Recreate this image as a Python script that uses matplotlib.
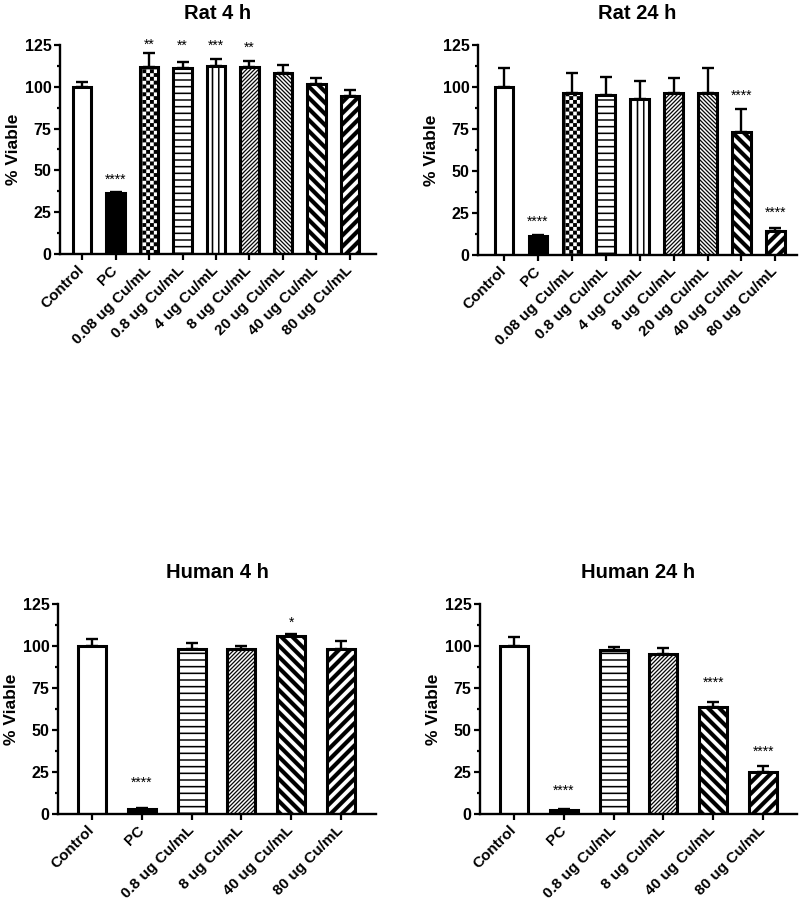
import numpy as np
import matplotlib
matplotlib.use("Agg")
import matplotlib.pyplot as plt
import matplotlib.hatch as mhatch
from matplotlib.path import Path

# ---------------- data ----------------
rat_labels = ['Control', 'PC', '0.08 ug Cu/mL', '0.8 ug Cu/mL', '4 ug Cu/mL',
              '8 ug Cu/mL', '20 ug Cu/mL', '40 ug Cu/mL', '80 ug Cu/mL']
rat4_mean = [100, 36.3, 112.0, 111.2, 112.4, 111.6, 108.3, 101.9, 94.3]
rat4_err = [3.0, 0.6, 8.0, 3.6, 4.2, 4.0, 4.7, 3.4, 3.6]
rat4_sig = ['', '****', '**', '**', '***', '**', '', '', '']
rat4_sig_y = [0, 44.3, 125.0, 124.6, 124.6, 123.4, 0, 0, 0]

rat24_mean = [100, 11.5, 96.4, 95.2, 92.7, 96.2, 96.2, 73.2, 14.1]
rat24_err = [11.3, 0.6, 11.7, 10.6, 11.1, 9.2, 15.1, 13.7, 2.0]
rat24_sig = ['', '****', '', '', '', '', '', '****', '****']
rat24_sig_y = [0, 19.8, 0, 0, 0, 0, 0, 95.0, 25.2]

human_labels = ['Control', 'PC', '0.8 ug Cu/mL', '8 ug Cu/mL',
                '40 ug Cu/mL', '80 ug Cu/mL']
human4_mean = [100, 2.8, 98.2, 98.0, 106.2, 98.2]
human4_err = [4.4, 0.6, 3.8, 2.0, 0.8, 4.8]
human4_sig = ['', '****', '', '', '*', '']
human4_sig_y = [0, 18.5, 0, 0, 114.0, 0]

human24_mean = [100, 2.4, 97.8, 95.2, 63.5, 25.2]
human24_err = [5.2, 0.6, 1.6, 3.6, 3.4, 3.2]
human24_sig = ['', '****', '', '', '****', '****']
human24_sig_y = [0, 13.9, 0, 0, 78.0, 37.3]

rat_hatch = ['', '', 'o', '-', '|', '/', '\\', 'X', 'x']
rat_face = ['white', 'black'] + ['white'] * 7
human_hatch = ['', '', '-', '/', 'X', 'x']
human_face = ['white', 'black'] + ['white'] * 4

yticks = [0, 25, 50, 75, 100, 125]


# ---------------- custom hatch patterns (filled polygons) ----------------
def _rect(x0, y0, x1, y1):
    return [(x0, y0), (x1, y0), (x1, y1), (x0, y1), (x0, y0)]


def _poly(pts):
    return list(pts) + [pts[0]]


def _build(char):
    polys = []
    if char == '-':
        n, t = 15, 0.014
        for k in range(n + 1):
            y = k / n
            polys.append(_rect(-0.05, y - t / 2, 1.05, y + t / 2))
    elif char == '|':
        n, t = 16, 0.014
        for k in range(n + 1):
            x = k / n
            polys.append(_rect(x - t / 2, -0.05, x + t / 2, 1.05))
    elif char in ('/', 'x', '\\', 'X'):
        if char in ('/', '\\'):
            n, t = 25, 0.011
        else:
            n, t = 9, 0.040
        h = t * np.sqrt(2) / 2
        if char in ('/', 'x'):
            for k in range(-n - 1, n + 2):
                c = k / n
                polys.append(_poly([(-0.1, -0.1 + c - h), (1.1, 1.1 + c - h),
                                    (1.1, 1.1 + c + h), (-0.1, -0.1 + c + h)]))
        else:
            for k in range(-1, 2 * n + 2):
                c = k / n
                polys.append(_poly([(-0.1, c + 0.1 - h), (1.1, c - 1.1 - h),
                                    (1.1, c - 1.1 + h), (-0.1, c + 0.1 + h)]))
    elif char == 'o':
        n = 26
        for i in range(n):
            for j in range(n):
                if (i + j) % 2 == 0:
                    polys.append(_rect(i / n, j / n, (i + 1) / n, (j + 1) / n))
    verts, codes = [], []
    for p in polys:
        verts.extend(p)
        codes.extend([Path.MOVETO] + [Path.LINETO] * (len(p) - 2) + [Path.CLOSEPOLY])
    return np.array(verts, dtype=float).reshape(-1, 2), np.array(codes, dtype=Path.code_type)


def _make_hatch_class(char):
    class _H(mhatch.HatchPatternBase):
        def __init__(self, hatch, density):
            if hatch is not None and char in hatch:
                self._v, self._c = _build(char)
            else:
                self._v, self._c = np.empty((0, 2)), np.empty(0, dtype=Path.code_type)
            self.num_vertices = len(self._v)

        def set_vertices_and_codes(self, vertices, codes):
            vertices[:] = self._v
            codes[:] = self._c
    return _H


mhatch._hatch_types = [_make_hatch_class(c) for c in ['-', '|', '/', '\\', 'x', 'X', 'o']]

# ---------------- style ----------------
plt.rcParams['font.family'] = ['Liberation Sans', 'DejaVu Sans']
plt.rcParams['hatch.linewidth'] = 0.1
plt.rcParams['hatch.color'] = 'black'

W, H = 800, 905
fig = plt.figure(figsize=(W / 100, H / 100), dpi=100)


def px_rect(left, right, top, bottom):
    return [left / W, (H - bottom) / H, (right - left) / W, (bottom - top) / H]


def panel(rect, xlim, title, labels, mean, err, faces, hatches, sig, sig_y, width):
    ax = fig.add_axes(rect)
    x = np.arange(len(labels))
    ax.errorbar(x, mean, yerr=[np.zeros(len(err)), err], fmt='none',
                ecolor='black', elinewidth=1.7, capsize=4.5, capthick=1.7, zorder=1)
    bars = ax.bar(x, mean, width=width, color=faces, edgecolor='black',
                  linewidth=2.2, zorder=2)
    for b, h in zip(bars, hatches):
        if h:
            b.set_hatch(h)
    for xi, s, sy in zip(x, sig, sig_y):
        if s:
            ax.text(xi, sy, s, ha='center', va='center', fontsize=10, zorder=3)
    ax.set_xlim(*xlim)
    ax.set_ylim(0, 125)
    ax.set_yticks(yticks)
    ax.set_yticks(np.arange(12.5, 125, 25), minor=True)
    ax.set_xticks(x)
    ax.set_xticklabels(labels, rotation=45, ha='right', va='center',
                       rotation_mode='anchor', fontsize=11, fontweight='bold')
    for lab in ax.get_yticklabels():
        lab.set_fontweight('bold')
        lab.set_fontsize(11.5)
    ax.tick_params(axis='both', which='major', direction='out', length=4,
                   width=1.6, color='black')
    ax.tick_params(axis='y', which='minor', direction='out', length=2.5,
                   width=1.6, color='black')
    ax.tick_params(axis='x', pad=6)
    ax.tick_params(axis='y', pad=2)
    for side in ('top', 'right'):
        ax.spines[side].set_visible(False)
    for side in ('left', 'bottom'):
        ax.spines[side].set_linewidth(1.7)
    ax.set_ylabel('% Viable', fontsize=12.5, fontweight='bold', labelpad=3)
    ax.set_title(title, fontsize=14.5, fontweight='bold', pad=19)
    return ax


panel(px_rect(60, 376, 45, 254), (-0.66, 8.78), 'Rat 4 h', rat_labels,
      rat4_mean, rat4_err, rat_face, rat_hatch, rat4_sig, rat4_sig_y, 0.55)
panel(px_rect(478, 797, 45, 255), (-0.77, 8.64), 'Rat 24 h', rat_labels,
      rat24_mean, rat24_err, rat_face, rat_hatch, rat24_sig, rat24_sig_y, 0.55)
panel(px_rect(58, 376, 604, 814), (-0.68, 5.70), 'Human 4 h', human_labels,
      human4_mean, human4_err, human_face, human_hatch, human4_sig, human4_sig_y, 0.56)
panel(px_rect(480, 797, 604, 814), (-0.68, 5.68), 'Human 24 h', human_labels,
      human24_mean, human24_err, human_face, human_hatch, human24_sig, human24_sig_y, 0.56)

fig.savefig('out.png', dpi=100, facecolor='white')
